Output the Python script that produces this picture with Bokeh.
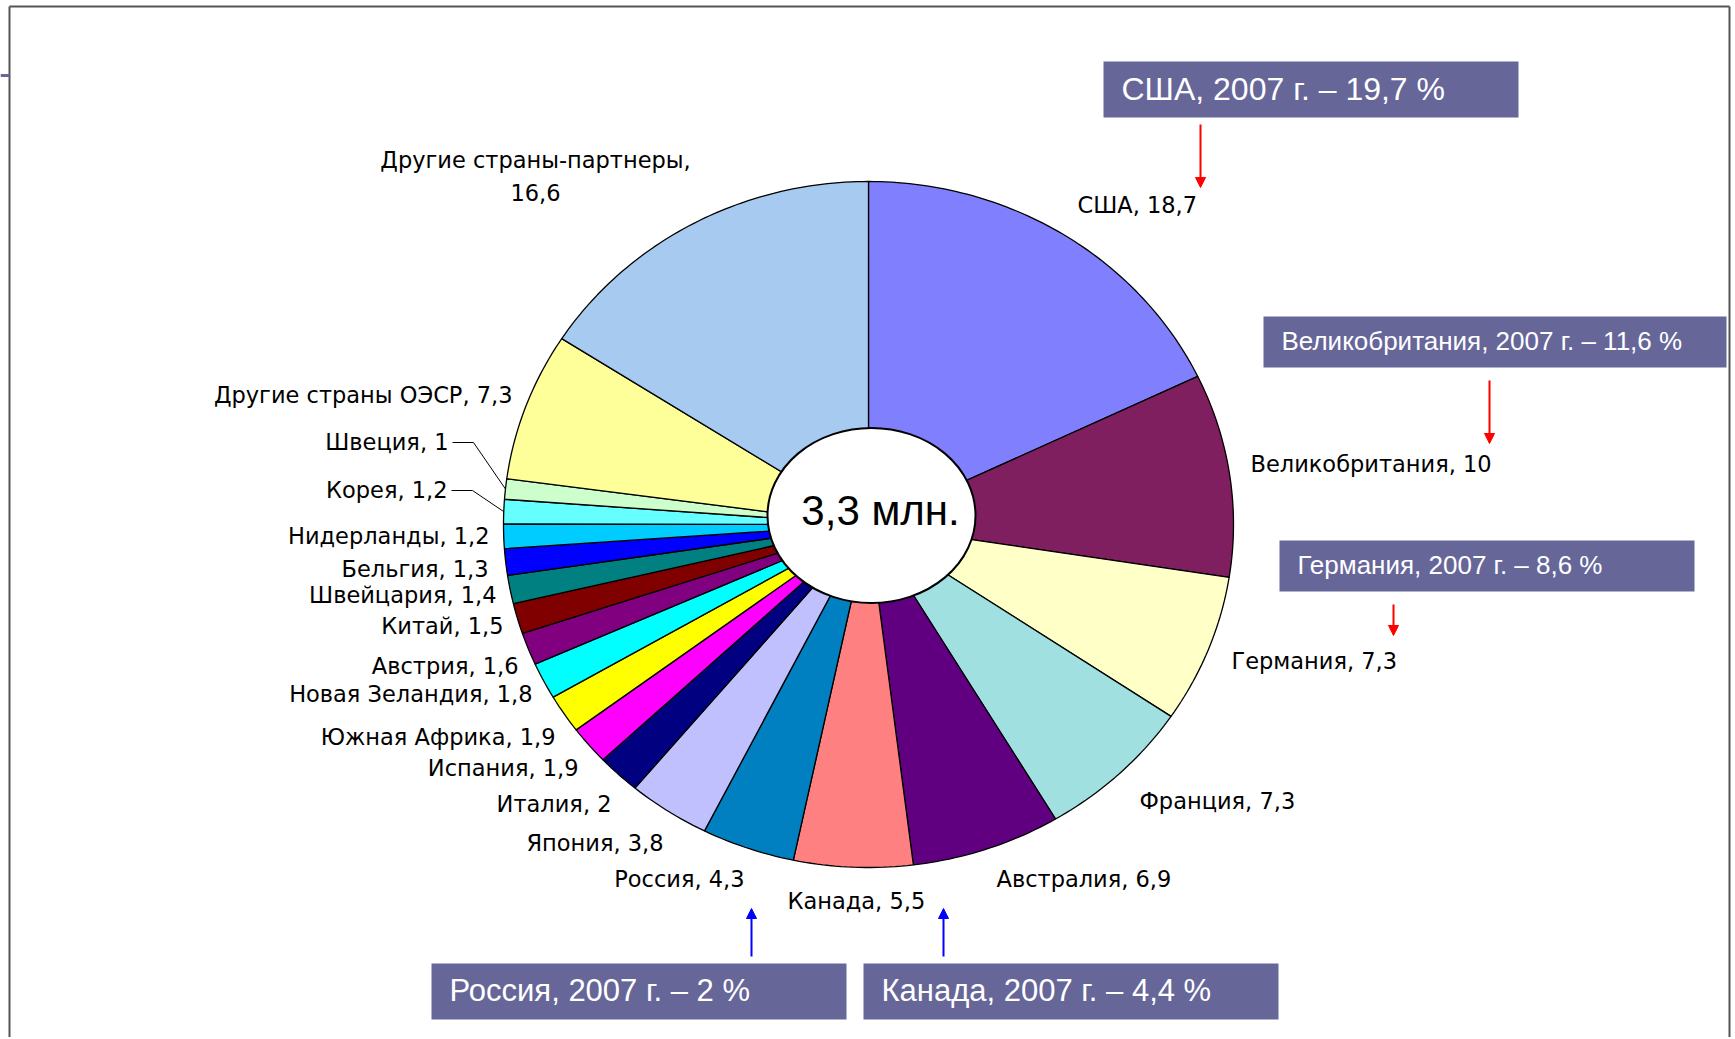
import numpy as np
from bokeh.plotting import figure
from bokeh.models import Range1d, Arrow, NormalHead
from bokeh.core.properties import value
from bokeh.embed import file_html
from bokeh.resources import INLINE

# ---------------- data ----------------
countries = ["США", "Великобритания", "Германия", "Франция", "Австралия", "Канада",
             "Россия", "Япония", "Италия", "Испания", "Южная Африка", "Новая Зеландия",
             "Австрия", "Китай", "Швейцария", "Бельгия", "Нидерланды", "Корея",
             "Швеция", "Другие страны ОЭСР", "Другие страны-партнеры"]
shares = [18.7, 10, 7.3, 7.3, 6.9, 5.5, 4.3, 3.8, 2, 1.9, 1.9, 1.8, 1.6, 1.5, 1.4,
          1.3, 1.2, 1.2, 1, 7.3, 16.6]
share_text = ["18,7", "10", "7,3", "7,3", "6,9", "5,5", "4,3", "3,8", "2", "1,9", "1,9",
              "1,8", "1,6", "1,5", "1,4", "1,3", "1,2", "1,2", "1", "7,3", "16,6"]
center_text = "3,3 млн."
notes = ["США, 2007 г. – 19,7 %", "Великобритания, 2007 г. – 11,6 %",
         "Германия, 2007 г. – 8,6 %", "Россия, 2007 г. – 2 %", "Канада, 2007 г. – 4,4 %"]

# ---------------- styles / layout ----------------
colors = ["#8080FF", "#7F1F5F", "#FFFFC8", "#A0E0E0", "#600080", "#FF8080", "#0080C0",
          "#C0C0FF", "#000080", "#FF00FF", "#FFFF00", "#00FFFF", "#800080", "#800000",
          "#008080", "#0000FF", "#00CCFF", "#66FFFF", "#CCFFCC", "#FFFF99", "#A6CAF0"]
cx, cy, rx, ry = 868, 524, 365, 343
label_pos = [(1077, 204, "left"), (1250, 463, "left"), (1231, 660, "left"),
             (1139, 800, "left"), (996, 878, "left"), (787, 900, "left"),
             (744, 878, "right"), (663, 842, "right"), (611, 803, "right"),
             (578, 767, "right"), (555, 736, "right"), (532, 693, "right"),
             (518, 665, "right"), (503, 625, "right"), (496, 594, "right"),
             (488, 568, "right"), (489, 535, "right"), (447, 489, "right"),
             (448, 441, "right"), (512, 394, "right"), (535, 176, "center")]
leader_idx = [17, 18]
note_boxes = [(1103, 1518, 61, 117, 32), (1263, 1726, 316, 367, 26),
              (1279, 1694, 540, 591, 26), (431, 846, 963, 1019, 31),
              (863, 1278, 963, 1019, 31)]
red_arrows = [(1200, 124, 1200, 187), (1489, 380, 1489, 443), (1393, 604, 1393, 635)]
blue_arrows = [(751, 956, 751, 908), (943, 956, 943, 908)]

W, H = 1733, 1037
p = figure(width=W, height=H, output_backend="svg", toolbar_location=None,
           x_range=Range1d(0, W), y_range=Range1d(H, 0),
           min_border=0, background_fill_color="white")
p.axis.visible = False
p.grid.visible = False
p.outline_line_color = None

# frame
p.line([9, 9], [6, 1037], line_color="#555555", line_width=2)
p.line([9, 1729], [6, 6], line_color="#555555", line_width=2)
p.line([1729, 1729], [6, 1037], line_color="#555555", line_width=2)
p.line([0, 9], [75, 75], line_color="#666699", line_width=3)

# pie slices (elliptical)
vals = np.array(shares, dtype=float)
ends = np.cumsum(vals) / vals.sum()
starts = np.concatenate([[0.0], ends[:-1]])
xs, ys = [], []
for s, e in zip(starts, ends):
    t = np.linspace(s, e, max(8, int((e - s) * 400))) * 2 * np.pi
    xs.append(np.concatenate([[cx], cx + rx * np.sin(t)]).tolist())
    ys.append(np.concatenate([[cy], cy - ry * np.cos(t)]).tolist())
p.patches(xs, ys, fill_color=colors, line_color="black", line_width=1.3)

# centre ellipse
p.ellipse(x=[871], y=[515], width=[208], height=[175], fill_color="white",
          line_color="black", line_width=2)
p.text(x=[880], y=[510], text=[center_text], text_font=value("Liberation Sans"),
       text_font_size="42px", text_align="center", text_baseline="middle",
       text_color="black")

# slice labels
for i, (c, v) in enumerate(zip(countries, share_text)):
    lx, ly, al = label_pos[i]
    txt = f"{c},\n{v}" if al == "center" else f"{c}, {v}"
    p.text(x=[lx], y=[ly], text=[txt], text_font=value("DejaVu Sans"),
           text_font_size="22.5px", text_align=al, text_baseline="middle",
           text_color="black", text_line_height=1.25)

# leader lines
mid = (starts + ends) / 2 * 2 * np.pi
for i in leader_idx:
    lx, ly, _ = label_pos[i]
    ex = cx + rx * np.sin(mid[i])
    ey = cy - ry * np.cos(mid[i])
    p.line([lx + 4, lx + 25, ex], [ly + 1, ly + 1, ey], line_color="black", line_width=1)

# note boxes
for (l, r, t, b, fs), n in zip(note_boxes, notes):
    p.quad(left=[l], right=[r], top=[t], bottom=[b], fill_color="#666699",
           line_color=None)
    p.text(x=[l + 18], y=[(t + b) / 2 - 1], text=[n], text_font=value("Liberation Sans"),
           text_font_size=f"{fs}px", text_align="left", text_baseline="middle",
           text_color="white")

for (x0, y0, x1, y1) in red_arrows:
    p.add_layout(Arrow(end=NormalHead(size=10, fill_color="red", line_color="red"),
                       x_start=x0, y_start=y0, x_end=x1, y_end=y1,
                       line_color="red", line_width=2))
for (x0, y0, x1, y1) in blue_arrows:
    p.add_layout(Arrow(end=NormalHead(size=10, fill_color="blue", line_color="blue"),
                       x_start=x0, y_start=y0, x_end=x1, y_end=y1,
                       line_color="blue", line_width=2))

open("out.html", "w").write(file_html(p, INLINE))
